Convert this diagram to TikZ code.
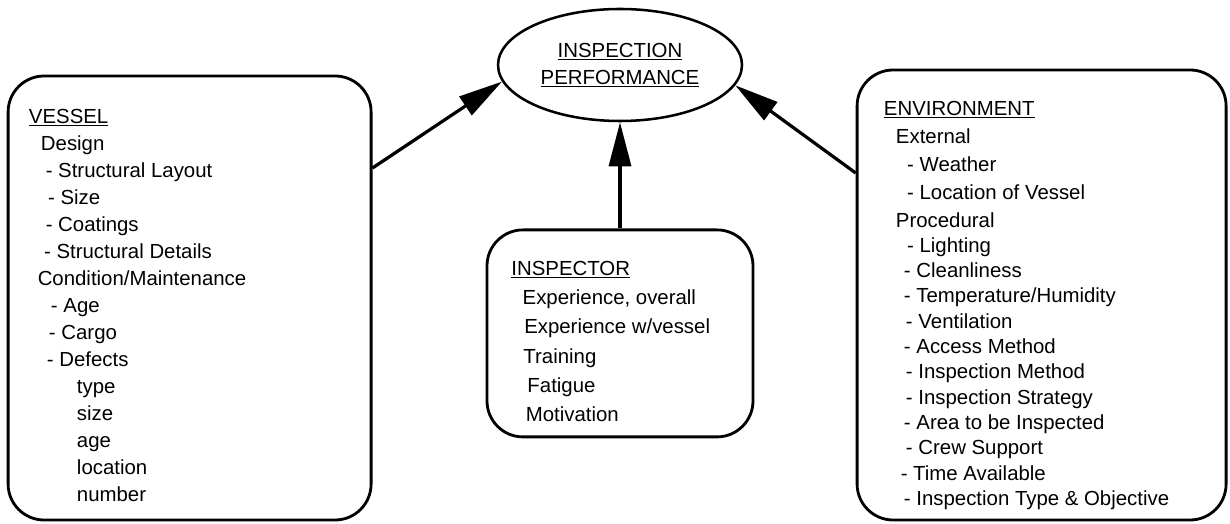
\documentclass[tikz,border=0pt]{standalone}
\usepackage{fontspec}
\setmainfont{Liberation Sans}
\usepackage{tikz}
\usetikzlibrary{shapes.geometric, arrows.meta}
\usetikzlibrary{positioning}
\tikzstyle{panel} = [rectangle, rounded corners=0.9cm, draw=black, line width=2pt]
\tikzstyle{goal} = [ellipse, minimum width=6.1cm, minimum height=2.8cm, draw=black, line width=1.8pt, align=center, font=\fontsize{14.5}{19.2}\selectfont]
\tikzstyle{items} = [anchor=north west, inner sep=0pt, align=left]
\tikzstyle{arrow} = [line width=2.3pt, -{Triangle[length=1.1cm,width=0.55cm]}]

\begin{document}
\begin{tikzpicture}
 \useasboundingbox (0,0) rectangle (30.75,13.075);
 \node[goal] (perf) at (15.5,11.45)
              {\underline{INSPECTION}\\\underline{PERFORMANCE}};
 \node[panel, minimum width=9.075cm, minimum height=11.1cm] (vessel) at (perf) [xshift=-10.76cm,yshift=-5.825cm] {};
 \node[panel, minimum width=6.65cm, minimum height=5.175cm] (inspector) at (perf) [xshift=0cm,yshift=-6.71cm] {};
 \node[panel, minimum width=9.225cm, minimum height=11.25cm] (env) at (perf) [xshift=10.54cm,yshift=-5.75cm] {};
% box contents
 \node[items, font=\fontsize{14.5}{19.2}\selectfont] (vesselitems) at (vessel.north west) [xshift=0.55cm,yshift=-0.85cm]
              {\underline{VESSEL}\\
               \hspace*{0.3cm}Design\\
               \hspace*{0.42cm}- Structural Layout\\
               \hspace*{0.48cm}- Size\\
               \hspace*{0.42cm}- Coatings\\
               \hspace*{0.38cm}- Structural Details\\
               \hspace*{0.22cm}Condition/Maintenance\\
               \hspace*{0.55cm}- Age\\
               \hspace*{0.5cm}- Cargo\\
               \hspace*{0.45cm}- Defects\\
               \hspace*{1.2cm}type\\
               \hspace*{1.2cm}size\\
               \hspace*{1.2cm}age\\
               \hspace*{1.2cm}location\\
               \hspace*{1.2cm}number};
 \node[items, font=\fontsize{14.5}{20.9}\selectfont] (inspitems) at (inspector.north west) [xshift=0.64cm,yshift=-0.8cm]
              {\underline{INSPECTOR}\\
               \hspace*{0.28cm}Experience, overall\\
               \hspace*{0.32cm}Experience w/vessel\\
               \hspace*{0.3cm}Training\\
               \hspace*{0.4cm}Fatigue\\
               \hspace*{0.36cm}Motivation};
 \node[items, font=\fontsize{14.5}{18}\selectfont] (envitems) at (env.north west) [xshift=0.7cm,yshift=-0.8cm]
              {\underline{ENVIRONMENT}\\[1.9pt]
               \hspace*{0.3cm}External\\[1.9pt]
               \hspace*{0.58cm}- Weather\\[1.9pt]
               \hspace*{0.58cm}- Location of Vessel\\[1.9pt]
               \hspace*{0.3cm}Procedural\\
               \hspace*{0.58cm}- Lighting\\
               \hspace*{0.5cm}- Cleanliness\\
               \hspace*{0.5cm}- Temperature/Humidity\\
               \hspace*{0.55cm}- Ventilation\\
               \hspace*{0.5cm}- Access Method\\
               \hspace*{0.55cm}- Inspection Method\\
               \hspace*{0.55cm}- Inspection Strategy\\
               \hspace*{0.5cm}- Area to be Inspected\\
               \hspace*{0.55cm}- Crew Support\\
               \hspace*{0.42cm}- Time Available\\
               \hspace*{0.5cm}- Inspection Type \& Objective};
% arrows
 \draw[arrow] ([yshift=3.25cm]vessel.east) -- (perf.188);
 \draw[arrow] (inspector.north) -- (perf.south);
 \draw[arrow] ([yshift=3.05cm]env.west) -- (perf.-10);
\end{tikzpicture}
\end{document}
